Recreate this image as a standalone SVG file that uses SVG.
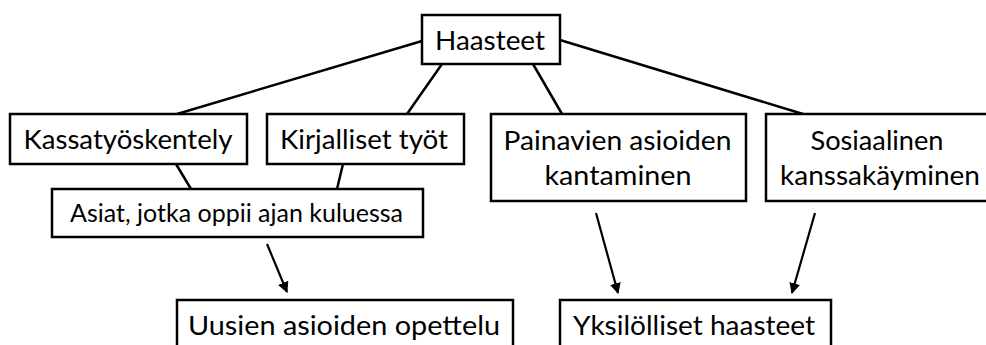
<svg xmlns="http://www.w3.org/2000/svg" width="986" height="345" viewBox="0 0 986 345">
  <defs>
    <style>
      .box { fill: #ffffff; stroke: #000000; stroke-width: 2.5; }
      .link { stroke: #000000; stroke-width: 2.5; fill: none; }
      .arrow { stroke: #000000; stroke-width: 2.2; fill: none; marker-end: url(#head); }
      .lbl { font-family: Lato, "Open Sans", sans-serif; font-size: 27.5px; fill: #000000; text-anchor: middle; }
      .small { font-size: 24.5px; }
    </style>
    <marker id="head" viewBox="0 0 10 10" refX="9" refY="5" markerWidth="5" markerHeight="5" markerUnits="strokeWidth" orient="auto">
      <path d="M0,0 L10,5 L0,10 Z" fill="#000000"/>
    </marker>
  </defs>

  <rect width="986" height="345" fill="#ffffff"/>

  <!-- connectors -->
  <g id="connectors">
    <line class="link" x1="422" y1="41" x2="177" y2="114"/>
    <line class="link" x1="442" y1="64" x2="407" y2="114"/>
    <line class="link" x1="533" y1="64" x2="562" y2="114"/>
    <line class="link" x1="560" y1="40" x2="803" y2="114"/>
    <line class="link" x1="176" y1="164" x2="191" y2="189"/>
    <line class="link" x1="343" y1="164" x2="337" y2="189"/>
    <line class="arrow" x1="267" y1="244" x2="287" y2="292"/>
    <line class="arrow" x1="596" y1="213" x2="618" y2="293"/>
    <line class="arrow" x1="815" y1="213" x2="792" y2="293"/>
  </g>

  <!-- nodes -->
  <g id="haasteet">
    <rect class="box" x="422" y="15" width="138" height="49"/>
    <text class="lbl" x="490" y="50" textLength="110" lengthAdjust="spacingAndGlyphs">Haasteet</text>
  </g>

  <g id="kassatyoskentely">
    <rect class="box" x="10" y="114" width="237" height="50"/>
    <text class="lbl" x="128" y="149" textLength="209" lengthAdjust="spacingAndGlyphs">Kassatyöskentely</text>
  </g>

  <g id="kirjalliset">
    <rect class="box" x="267" y="114" width="197" height="50"/>
    <text class="lbl" x="364" y="149" textLength="168" lengthAdjust="spacingAndGlyphs">Kirjalliset työt</text>
  </g>

  <g id="painavien">
    <rect class="box" x="491" y="114" width="255" height="87"/>
    <text class="lbl" x="617.5" y="150" textLength="228" lengthAdjust="spacingAndGlyphs">Painavien asioiden</text>
    <text class="lbl" x="618" y="185" textLength="147" lengthAdjust="spacingAndGlyphs">kantaminen</text>
  </g>

  <g id="sosiaalinen">
    <rect class="box" x="766" y="114" width="228" height="87"/>
    <text class="lbl" x="877" y="150" textLength="133" lengthAdjust="spacingAndGlyphs">Sosiaalinen</text>
    <text class="lbl" x="880" y="185" textLength="200" lengthAdjust="spacingAndGlyphs">kanssakäyminen</text>
  </g>

  <g id="asiat">
    <rect class="box" x="52" y="189" width="371" height="48"/>
    <text class="lbl small" x="236.5" y="222" textLength="333" lengthAdjust="spacingAndGlyphs">Asiat, jotka oppii ajan kuluessa</text>
  </g>

  <g id="uusien">
    <rect class="box" x="177" y="300" width="336" height="60"/>
    <text class="lbl" x="344" y="335" textLength="312" lengthAdjust="spacingAndGlyphs">Uusien asioiden opettelu</text>
  </g>

  <g id="yksilolliset">
    <rect class="box" x="560" y="300" width="271" height="60"/>
    <text class="lbl" x="694" y="335" textLength="242" lengthAdjust="spacingAndGlyphs">Yksilölliset haasteet</text>
  </g>
</svg>
